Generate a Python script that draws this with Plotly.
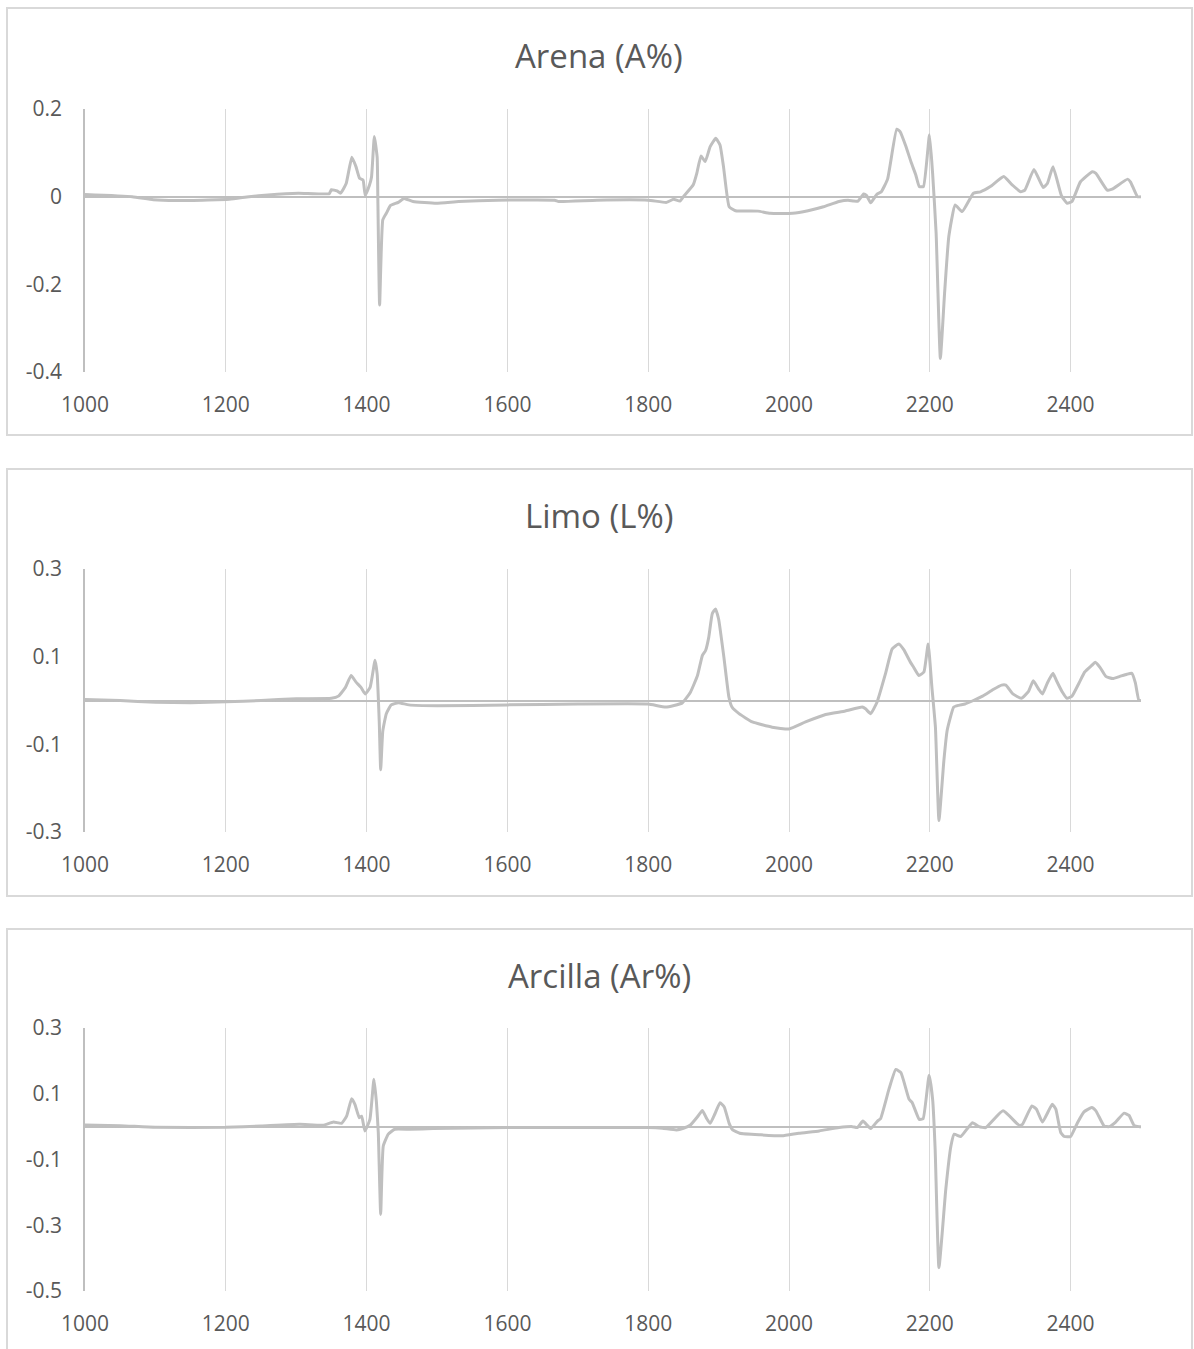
import plotly.graph_objects as go

# Wavelength (nm) and coefficient values for each soil fraction
arena_wl = [1000, 1067, 1097, 1129, 1205, 1233, 1260, 1303, 1347, 1350, 1358, 1363, 1371, 1379,
            1385, 1390, 1395, 1398, 1404, 1407, 1411, 1415, 1416, 1418.5, 1423, 1428, 1434,
            1445, 1453, 1466, 1499, 1531, 1586, 1667, 1673, 1727, 1800, 1826, 1836, 1845,
            1850, 1864, 1869, 1875, 1881, 1888, 1896, 1902, 1907, 1915, 1924, 1956, 1973,
            2005, 2027, 2049, 2071, 2084, 2092, 2098, 2106, 2110, 2116, 2125, 2131, 2140,
            2153, 2158, 2166, 2174, 2180, 2185, 2191, 2199.5, 2204, 2209, 2215, 2221, 2227,
            2236, 2246, 2262, 2272, 2286, 2305, 2317, 2329, 2335, 2348, 2361, 2367, 2375,
            2387, 2395, 2402, 2414, 2431, 2436, 2452, 2459, 2481, 2485, 2495, 2500]
arena_val = [0.005, 0.0, -0.007, -0.009, -0.006, 0.0, 0.004, 0.008, 0.007, 0.016, 0.013, 0.008,
             0.03, 0.09, 0.068, 0.042, 0.038, 0.003, 0.026, 0.045, 0.137, 0.09, -0.008, -0.247,
             -0.053, -0.038, -0.02, -0.013, -0.004, -0.011, -0.015, -0.011, -0.008, -0.008,
             -0.011, -0.008, -0.008, -0.013, -0.006, -0.01, 0.0, 0.027, 0.053, 0.093, 0.08,
             0.114, 0.133, 0.118, 0.068, -0.023, -0.032, -0.033, -0.038, -0.038, -0.032,
             -0.023, -0.011, -0.008, -0.01, -0.01, 0.006, 0.003, -0.014, 0.006, 0.011, 0.04,
             0.154, 0.148, 0.115, 0.076, 0.05, 0.023, 0.023, 0.141, 0.053, -0.084, -0.369,
             -0.22, -0.091, -0.019, -0.034, 0.008, 0.011, 0.023, 0.046, 0.027, 0.011, 0.015,
             0.062, 0.021, 0.03, 0.068, 0.002, -0.015, -0.011, 0.034, 0.057, 0.053, 0.015,
             0.017, 0.04, 0.034, 0.0, 0.0]

limo_wl = [1000, 1050, 1100, 1150, 1200, 1250, 1300, 1350, 1360, 1370, 1378, 1385, 1392, 1398,
           1405, 1412, 1415, 1418, 1420, 1423, 1428, 1435, 1445, 1460, 1500, 1600, 1700,
           1800, 1825, 1848, 1860, 1870, 1877, 1881.5, 1886, 1891, 1895.6, 1900, 1907.5,
           1914.6, 1919, 1929, 1948, 1976, 2000, 2023.5, 2052, 2080, 2104, 2108.7, 2116,
           2125, 2137, 2146.6, 2156, 2163, 2172.6, 2177, 2184.5, 2191.6, 2197.7, 2203, 2208,
           2213, 2220, 2224.7, 2234, 2241, 2250, 2262, 2275, 2290, 2302, 2308, 2318, 2330,
           2340, 2347, 2355, 2360, 2367, 2375, 2380, 2388, 2395, 2402, 2412, 2420, 2430,
           2435, 2442, 2450, 2460, 2470, 2480, 2487, 2492, 2497, 2500]
limo_val = [0.002, 0.0, -0.004, -0.005, -0.003, 0.0, 0.004, 0.005, 0.01, 0.03, 0.057, 0.042,
            0.03, 0.015, 0.03, 0.092, 0.06, -0.05, -0.158, -0.07, -0.03, -0.01, -0.005, -0.01,
            -0.012, -0.01, -0.008, -0.008, -0.015, -0.006, 0.019, 0.057, 0.103, 0.114, 0.144,
            0.198, 0.209, 0.186, 0.099, 0.008, -0.015, -0.03, -0.049, -0.061, -0.065, -0.049,
            -0.032, -0.024, -0.015, -0.019, -0.03, -0.004, 0.061, 0.118, 0.129, 0.116, 0.087,
            0.076, 0.057, 0.065, 0.129, 0.03, -0.061, -0.274, -0.137, -0.068, -0.015, -0.011,
            -0.008, 0.0, 0.01, 0.025, 0.035, 0.035, 0.015, 0.005, 0.02, 0.045, 0.025, 0.015,
            0.04, 0.062, 0.045, 0.02, 0.005, 0.01, 0.04, 0.065, 0.08, 0.087, 0.075, 0.055,
            0.05, 0.055, 0.06, 0.062, 0.04, 0.0, 0.0]

arcilla_wl = [1000, 1050, 1100, 1200, 1250, 1305, 1338, 1353, 1364.5, 1371.6, 1378.7, 1383.4,
              1389.6, 1393, 1397.6, 1404.7, 1410.4, 1414, 1416.6, 1420, 1423.7, 1430.8, 1440,
              1461.6, 1494.7, 1600, 1700, 1800, 1820, 1840, 1850, 1860, 1870, 1877, 1883,
              1888, 1895, 1902, 1908, 1915, 1920, 1930, 1960, 1990, 2014, 2043, 2071, 2090,
              2097, 2105, 2116, 2125.7, 2130, 2142, 2151.7, 2159, 2170.6, 2175, 2185, 2190.5,
              2199, 2204, 2207.6, 2213, 2222.7, 2230, 2234.6, 2244, 2260.6, 2270, 2279.5, 2304,
              2327, 2331.6, 2345, 2351.5, 2360, 2374, 2379, 2386, 2391, 2400, 2409.8, 2419,
              2430, 2436, 2447.6, 2454.7, 2464, 2476, 2483, 2490, 2497, 2500]
arcilla_val = [0.005, 0.003, -0.002, -0.002, 0.002, 0.007, 0.004, 0.014, 0.01, 0.032, 0.085,
               0.068, 0.027, 0.032, -0.013, 0.022, 0.144, 0.073, -0.018, -0.267, -0.059, -0.023,
               -0.008, -0.008, -0.006, -0.003, -0.003, -0.003, -0.005, -0.01, -0.005, 0.005,
               0.03, 0.049, 0.025, 0.01, 0.04, 0.073, 0.06, 0.01, -0.01, -0.02, -0.025, -0.028,
               -0.02, -0.013, -0.003, 0.0, -0.003, 0.017, -0.006, 0.017, 0.024, 0.114, 0.174,
               0.164, 0.083, 0.073, 0.022, 0.024, 0.156, 0.083, -0.069, -0.429, -0.191, -0.059,
               -0.023, -0.03, 0.012, 0.0, -0.003, 0.048, 0.004, 0.007, 0.063, 0.053, 0.014,
               0.068, 0.053, -0.018, -0.03, -0.03, 0.012, 0.045, 0.058, 0.048, 0.002, 0.0,
               0.014, 0.041, 0.034, 0.004, 0.0, 0.0]

titles = ["Arena (A%)", "Limo (L%)", "Arcilla (Ar%)"]
y_ranges = [[-0.4, 0.2], [-0.3, 0.3], [-0.5, 0.3]]
y_ticks = [[-0.4, -0.2, 0, 0.2], [-0.3, -0.1, 0.1, 0.3], [-0.5, -0.3, -0.1, 0.1, 0.3]]
y_ticktext = [["-0.4", "-0.2", "0", "0.2"], ["-0.3", "-0.1", "0.1", "0.3"],
              ["-0.5", "-0.3", "-0.1", "0.1", "0.3"]]
x_ticks = [1000, 1200, 1400, 1600, 1800, 2000, 2200, 2400]

W, H = 1194, 1349
LINE = "#BFBFBF"
GRID = "#D9D9D9"
TEXT = "#595959"
FONT = "Open Sans, Noto Sans, sans-serif"


def px_x(p):
    return p / W


def px_y(p):
    return 1 - p / H


# Pixel layout of each panel: plot top, plot bottom, title centre, frame top, frame bottom
panels = [
    dict(top=109, bottom=372, title=55, ftop=8, fbot=435),
    dict(top=569, bottom=832, title=515, ftop=469, fbot=896),
    dict(top=1028, bottom=1291, title=975, ftop=929, fbot=1352),
]

series = [(arena_wl, arena_val), (limo_wl, limo_val), (arcilla_wl, arcilla_val)]

fig = go.Figure()
layout = dict(
    width=W, height=H, autosize=False,
    margin=dict(l=0, r=0, t=0, b=0, pad=0),
    paper_bgcolor="white", plot_bgcolor="white",
    showlegend=False,
    font=dict(family=FONT, color=TEXT),
    shapes=[], annotations=[],
)

for i, ((wl, val), p) in enumerate(zip(series, panels)):
    n = "" if i == 0 else str(i + 1)
    fig.add_trace(go.Scatter(
        x=wl, y=val, mode="lines",
        line=dict(color=LINE, width=3, shape="spline", smoothing=0.4),
        xaxis="x" + n, yaxis="y" + n, hoverinfo="skip",
    ))
    layout["xaxis" + n] = dict(
        domain=[px_x(85), px_x(1141)], range=[1000, 2500], anchor="y" + n,
        tickvals=x_ticks, showgrid=True, gridcolor=GRID, gridwidth=1.3,
        zeroline=False, showline=False, ticks="", automargin=False,
        tickfont=dict(size=21, color=TEXT, family=FONT), ticklabelstandoff=18,
    )
    layout["yaxis" + n] = dict(
        domain=[px_y(p["bottom"]), px_y(p["top"])], range=y_ranges[i], anchor="x" + n,
        tickvals=y_ticks[i], ticktext=y_ticktext[i], showgrid=False,
        zeroline=True, zerolinecolor=LINE, zerolinewidth=2,
        showline=True, linecolor=LINE, linewidth=1.6, ticks="", automargin=False,
        tickfont=dict(size=21, color=TEXT, family=FONT), ticklabelstandoff=17,
    )
    layout["annotations"].append(dict(
        text=titles[i], xref="paper", yref="paper", x=px_x(599), y=px_y(p["title"]),
        xanchor="center", yanchor="middle", showarrow=False,
        font=dict(size=33, color=TEXT, family=FONT),
    ))
    layout["shapes"].append(dict(
        type="rect", xref="paper", yref="paper",
        x0=px_x(7), x1=px_x(1192), y0=px_y(p["fbot"]), y1=px_y(p["ftop"]),
        line=dict(color=GRID, width=2), layer="below",
    ))

fig.update_layout(**layout)
fig.write_html("out.html")
